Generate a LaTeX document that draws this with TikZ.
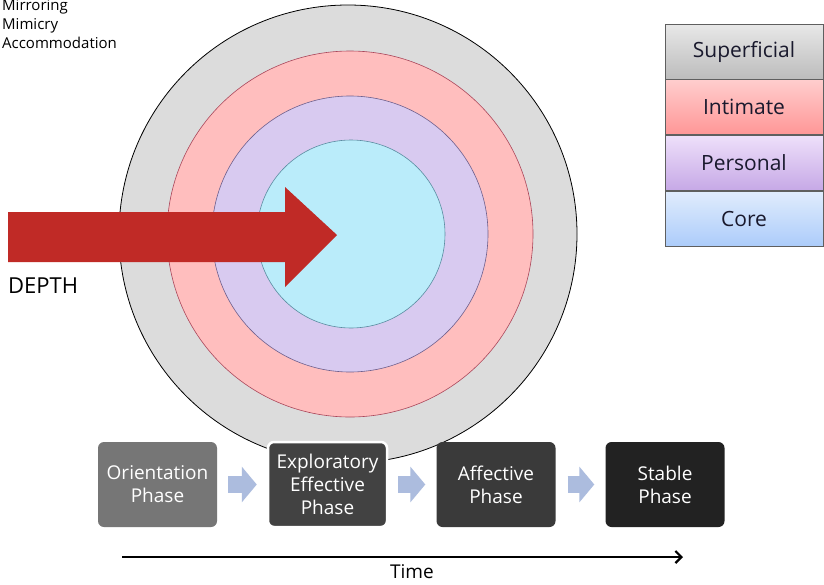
\documentclass[tikz,border=0pt]{standalone}
\usepackage{fontspec}
\setmainfont{Open Sans}
\usepackage{tikz}
\usetikzlibrary{positioning, arrows.meta}

\definecolor{ringgray}{RGB}{220,220,220}
\definecolor{ringpink}{RGB}{255,190,190}
\definecolor{ringlilac}{RGB}{216,202,240}
\definecolor{ringcyan}{RGB}{186,236,250}
\definecolor{depthred}{RGB}{192,42,38}
\definecolor{flowblue}{RGB}{172,188,222}
\definecolor{legendtext}{RGB}{25,25,45}

\tikzset{
    legendbox/.style={draw={rgb,255:red,95;green,95;blue,95}, line width=0.8pt,
        minimum width=158pt, minimum height=55pt, inner sep=0pt,
        text=legendtext, font=\fontsize{21}{25}\selectfont},
    phasebox/.style={rounded corners=6pt, minimum width=119pt, minimum height=85pt,
        inner sep=0pt, text=white, align=center, font=\fontsize{19}{23}\selectfont},
    flowarrow/.style={draw=flowblue, line width=17pt, -{Triangle[length=15pt,width=35pt]}},
    sidelabel/.style={font=\fontsize{15}{19}\selectfont, inner sep=0pt, anchor=base west},
}

\begin{document}
\begin{tikzpicture}[x=1pt, y=-1pt]
        \useasboundingbox (0,0) rectangle (824,584); %固定画面大小
        \fill[white] (0,0) rectangle (824,584);
%        \draw[lightgray, very thin] (0,0) grid[step=50] (824,584); %作网格
        % 同心圆
        \filldraw[fill=ringgray, draw=black, line width=0.8pt] (348,234) circle[radius=229pt];
        \filldraw[fill=ringpink, draw={rgb,255:red,170;green,70;blue,90}, line width=0.6pt] (350,234) circle[radius=183pt];
        \filldraw[fill=ringlilac, draw={rgb,255:red,110;green,95;blue,140}, line width=0.6pt] (350,234) circle[radius=138pt];
        \filldraw[fill=ringcyan, draw={rgb,255:red,90;green,140;blue,160}, line width=0.6pt] (351,234) circle[radius=94pt];
        % 红色大箭头
        \fill[depthred] (8,212) -- (285,212) -- (285,187) -- (337,235) -- (285,287) -- (285,262) -- (8,262) -- cycle;
        \node[anchor=base west, inner sep=0pt, font=\fontsize{22}{26}\selectfont] (depth) at (8,293) {DEPTH};
        % 左上角文字
        \node[sidelabel] (mirroring) at (2,10) {Mirroring};
        \node[sidelabel] (mimicry) at (2,29) {Mimicry};
        \node[sidelabel] (accom) at (2,48) {Accommodation};
        % 图例
        \node[legendbox, top color={rgb,255:red,232;green,232;blue,232}, bottom color={rgb,255:red,188;green,188;blue,188}] (superficial) at (744,51.5) {Superficial};
        \node[legendbox, top color={rgb,255:red,255;green,205;blue,205}, bottom color={rgb,255:red,255;green,150;blue,150}, below=0pt of superficial] (intimate) {Intimate};
        \node[legendbox, top color={rgb,255:red,238;green,224;blue,250}, bottom color={rgb,255:red,198;green,168;blue,230}, below=0pt of intimate] (personal) {Personal};
        \node[legendbox, top color={rgb,255:red,224;green,236;blue,253}, bottom color={rgb,255:red,172;green,204;blue,250}, below=0pt of personal] (core) {Core};
        % 阶段方框
        \node[phasebox, fill={rgb,255:red,118;green,118;blue,118}] (orient) at (157.5,484.5) {Orientation\\Phase};
        \node[phasebox, fill={rgb,255:red,66;green,66;blue,66}, draw=white, line width=2.5pt] (explore) at (327.5,484.5) {Exploratory\\Effective\\Phase};
        \node[phasebox, fill={rgb,255:red,58;green,58;blue,58}] (affect) at (496,484.5) {Affective\\Phase};
        \node[phasebox, fill={rgb,255:red,34;green,34;blue,34}] (stable) at (665,484.5) {Stable\\Phase};
        \draw[flowarrow] ([xshift=11pt]orient.east) -- ([xshift=-10pt]explore.west);
        \draw[flowarrow] ([xshift=10pt]explore.east) -- ([xshift=-11pt]affect.west);
        \draw[flowarrow] ([xshift=12pt]affect.east) -- ([xshift=-11pt]stable.west);
        % 时间轴
        \coordinate (tstart) at (122,557);
        \coordinate (tend) at (683,557);
        \draw[line width=2.2pt, -{Straight Barb[length=6pt,width=12pt]}] (tstart) -- (tend);
        \node[anchor=base, inner sep=0pt, font=\fontsize{19}{22}\selectfont] (time) at (412,578) {Time};
    \end{tikzpicture}
\end{document}
